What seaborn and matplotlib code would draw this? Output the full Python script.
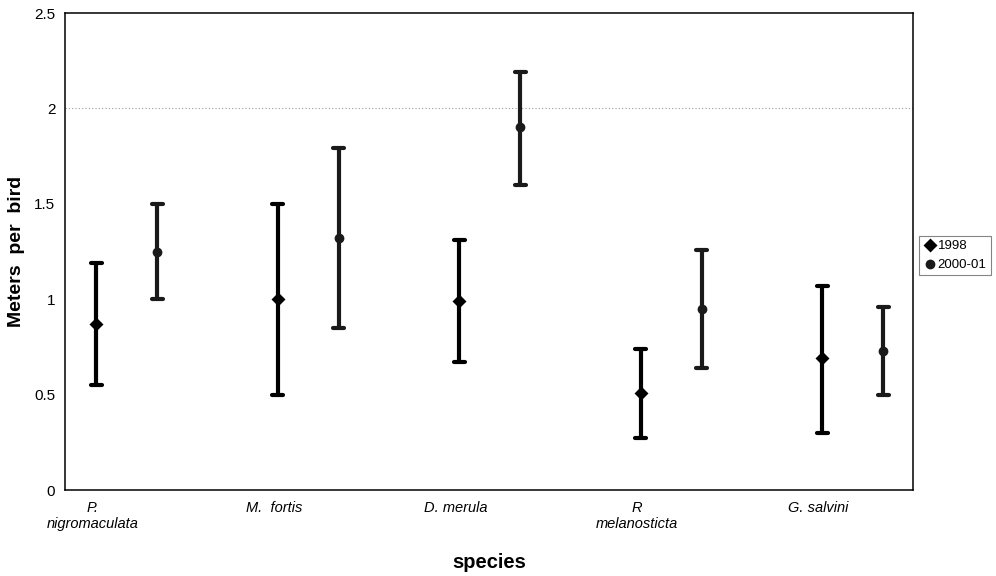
import numpy as np
import pandas as pd
import matplotlib
matplotlib.use("Agg")
import matplotlib.pyplot as plt
import seaborn as sns

# values
species = ["P.\nnigromaculata", "M.  fortis", "D. merula", "R\nmelanosticta", "G. salvini"]
periods = ["1998", "2000-01"]

mean_1998 = [0.87, 1.00, 0.99, 0.51, 0.69]
low_1998 = [0.55, 0.50, 0.67, 0.27, 0.30]
high_1998 = [1.19, 1.50, 1.31, 0.74, 1.07]

mean_2000 = [1.25, 1.32, 1.90, 0.95, 0.73]
low_2000 = [1.00, 0.85, 1.60, 0.64, 0.50]
high_2000 = [1.50, 1.79, 2.19, 1.26, 0.96]

y_ticks = [0, 0.5, 1, 1.5, 2, 2.5]

# long form table: low / mean / high per group, median = mean, range = bar
rows = []
for period, lo, mid, hi in [("1998", low_1998, mean_1998, high_1998),
                            ("2000-01", low_2000, mean_2000, high_2000)]:
    for i, sp in enumerate(species):
        for v in (lo[i], mid[i], hi[i]):
            rows.append({"species": sp, "period": period, "value": v})
df = pd.DataFrame(rows)

sns.set_style("white")
plt.rcParams["font.family"] = ["Liberation Sans", "DejaVu Sans"]
plt.rcParams.update({"text.color": "black", "axes.labelcolor": "black",
                     "xtick.color": "black", "ytick.color": "black"})

fig = plt.figure(figsize=(9.96, 5.76), dpi=100)
ax = fig.add_axes([0.0653, 0.1493, 0.8514, 0.8281])

dodge = 0.336
sns.pointplot(
    data=df, x="species", y="value", hue="period", order=species, hue_order=periods,
    estimator="median", errorbar=lambda v: (v.min(), v.max()),
    dodge=dodge, markers=["D", "o"], linestyle="none",
    palette=["black", "#1a1a1a"], capsize=0.06,
    err_kws={"linewidth": 3.0}, markersize=5, ax=ax,
)

ax.set_xlim(-0.339, 4.333)
ax.set_ylim(0, 2.5)
ax.set_yticks(y_ticks)
ax.set_yticklabels(["0", "0.5", "1", "1.5", "2", "2.5"], fontsize=11)
ax.tick_params(axis="y", direction="out", length=4, width=0.8, color="#555555", pad=3)

# category labels sit under the 1998 bars
ax.set_xticks(np.arange(len(species)) - dodge / 2 - 0.02)
ax.set_xticklabels(species, fontsize=10.5, style="italic")
ax.tick_params(axis="x", length=0, pad=8)

ax.axhline(2, color="#9a9a9a", linestyle=(0, (1, 2)), linewidth=0.8, zorder=0)

for s in ax.spines.values():
    s.set_visible(True)
    s.set_color("black")
    s.set_linewidth(1.1)

ax.set_ylabel("Meters  per  bird", fontsize=14, fontweight="bold")
ax.yaxis.set_label_coords(-0.047, 0.5)
ax.set_xlabel("species", fontsize=14.5, fontweight="bold")
ax.xaxis.set_label_coords(0.5, -0.133)

leg = ax.legend(loc="upper left", bbox_to_anchor=(0.923, 0.59), bbox_transform=fig.transFigure,
                frameon=True, fancybox=False, fontsize=9.5, handletextpad=0.1,
                handlelength=1.0, borderpad=0.3, labelspacing=0.5, borderaxespad=0)
leg.get_frame().set_edgecolor("#666666")
leg.get_frame().set_linewidth(0.8)

fig.savefig("out.png", dpi=100)
